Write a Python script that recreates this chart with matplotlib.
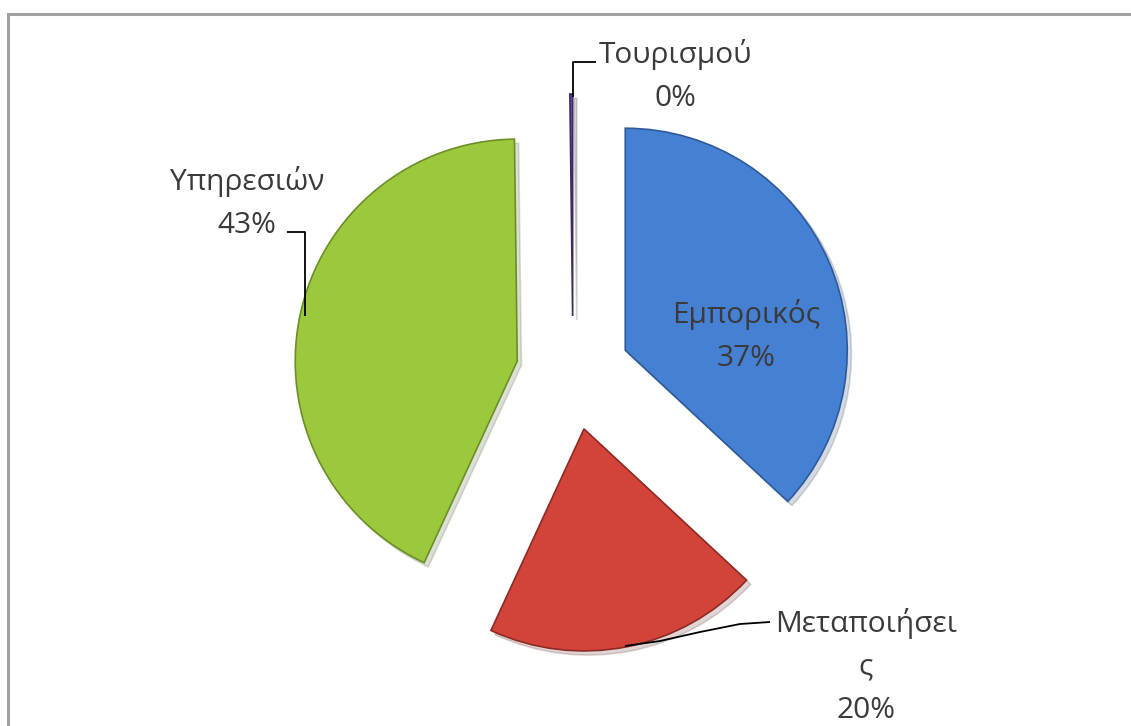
import matplotlib
matplotlib.use("Agg")
import matplotlib.pyplot as plt

# ---- data ----
categories = ["Εμπορικός", "Μεταποιήσεις", "Υπηρεσιών", "Τουρισμού"]
values = [37, 20, 43, 0.2]
colors = ["#4580d3", "#d2433a", "#9cc83d", "#6a4f9a"]
edge_colors = ["#2d5a9c", "#8e2a24", "#6b8f26", "#3d2b60"]

W, H = 1131, 726
plt.rcParams['font.family'] = ['Open Sans', 'DejaVu Sans']

fig = plt.figure(figsize=(W / 100, H / 100), dpi=100)
ax = fig.add_axes([0, 0, 1, 1])


def Y(y):
    return H - y


cx, cy, R, EX = 573, 373, 222, 57
wedges, _ = ax.pie(values, colors=colors, startangle=90, counterclock=False,
                   radius=R, center=(cx, Y(cy)), explode=[EX] * len(values),
                   wedgeprops=dict(linewidth=1.2),
                   shadow={'ox': 3, 'oy': -3, 'shade': 0.6, 'alpha': 0.18})
for w, ec in zip(wedges, edge_colors):
    w.set_edgecolor(ec)

ax.set_xlim(0, W)
ax.set_ylim(0, H)
ax.set_aspect('auto')
ax.axis('off')

total = sum(values)
pcts = [f"{round(v / total * 100)}%" for v in values]

txt = dict(color="#3a3a3a", fontsize=21.5, ha="center", va="baseline")

# Εμπορικός (inside)
ax.text(746, Y(323), categories[0], **txt)
ax.text(746, Y(366), pcts[0], **txt)

# Μεταποιήσεις (wrapped)
ax.text(866, Y(632), "Μεταποιήσει", **txt)
ax.text(866, Y(675), "ς", **txt)
ax.text(866, Y(718), pcts[1], **txt)

# Υπηρεσιών
ax.text(247, Y(190), categories[2], **txt)
ax.text(247, Y(233), pcts[2], **txt)

# Τουρισμού
ax.text(675, Y(63), categories[3], **txt)
ax.text(675, Y(106), pcts[3], **txt)

# leader lines
lk = dict(color="black", lw=1.3, solid_capstyle='butt')
ax.plot([596, 573, 573], [Y(62), Y(62), Y(97)], **lk)
ax.plot([287, 305, 305], [Y(232), Y(232), Y(316)], **lk)
ax.plot([625, 660, 700, 740, 770], [Y(646), Y(641), Y(632), Y(624), Y(622)], **lk)

# chart area border
ax.plot([8, 8, W], [0, Y(14), Y(14)], color="#a0a0a0", lw=2.2,
        solid_joinstyle='miter')

fig.savefig("out.png", dpi=100)
